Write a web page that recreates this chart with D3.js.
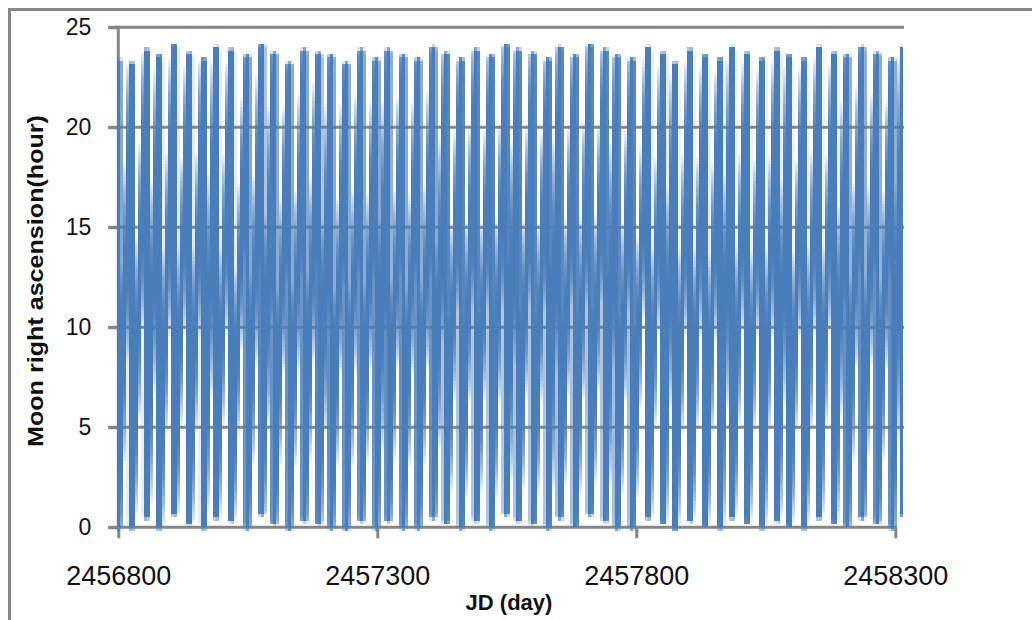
<!DOCTYPE html>
<html>
<head>
<meta charset="utf-8">
<script src="https://cdn.jsdelivr.net/npm/d3@7"></script>
<style>
  body { margin: 0; background: #fff; }
  #wrap { position: relative; width: 1032px; height: 620px; overflow: hidden; }
  #chart { position: absolute; left: 0; top: 0; }
  text { font-family: "Liberation Sans", Arial, sans-serif; fill: #111; }
</style>
</head>
<body>
<div id="wrap"><svg id="chart"></svg></div>
<script>
// Tick values
const jdTicks = [2456800, 2457300, 2457800, 2458300];
const raTicks = [0, 5, 10, 15, 20, 25];

// JD where the right ascension wraps from ~24h back to ~0h
const wrapJD = [
  2456800, 2456826, 2456855, 2456879, 2456908, 2456937, 2456965, 2456989, 2457018, 2457049,
  2457077, 2457101, 2457130, 2457159, 2457187, 2457211, 2457240, 2457269, 2457298, 2457321,
  2457350, 2457379, 2457408, 2457433, 2457462, 2457491, 2457520, 2457549, 2457572, 2457601,
  2457630, 2457653, 2457682, 2457711, 2457740, 2457763, 2457792, 2457823, 2457852, 2457875,
  2457904, 2457933, 2457962, 2457985, 2458014, 2458043, 2458072, 2458095, 2458124, 2458153,
  2458182, 2458207, 2458236, 2458265, 2458294, 2458315
];
// last value before the wrap (hour)
const peakRA = [
  23.38, 23.09, 23.74, 23.44, 23.98, 23.59, 23.29, 23.89, 23.74, 23.44,
  23.98, 23.59, 23.09, 23.74, 23.59, 23.44, 23.09, 23.74, 23.29, 23.74,
  23.44, 23.29, 23.89, 23.59, 23.29, 23.74, 23.44, 23.98, 23.74, 23.59,
  23.29, 23.89, 23.44, 23.98, 23.74, 23.44, 23.29, 23.89, 23.59, 23.09,
  23.74, 23.44, 23.29, 23.89, 23.59, 23.29, 23.74, 23.44, 23.29, 23.89,
  23.59, 23.44, 23.89, 23.59, 23.29, 23.89
];
// first value after the wrap (hour)
const troughRA = [
  0.10, 0.10, 0.59, 0.10, 0.74, 0.29, 0.10, 0.59, 0.44, 0.10,
  0.74, 0.29, 0.05, 0.44, 0.29, 0.10, 0.05, 0.44, 0.10, 0.44,
  0.10, 0.10, 0.59, 0.35, 0.10, 0.44, 0.10, 0.74, 0.44, 0.29,
  0.10, 0.59, 0.15, 0.74, 0.44, 0.10, 0.10, 0.59, 0.35, 0.05,
  0.44, 0.15, 0.10, 0.59, 0.35, 0.10, 0.44, 0.15, 0.10, 0.59,
  0.35, 0.15, 0.59, 0.35, 0.10, 0.59
];

const width = 1032;
const height = 620;
const plotLeft = 118.3, plotRight = 904, plotTop = 27.3, plotBottom = 527.3;
const grey = "#868686";
const blue = "#4a7ebb";

const points = [];
wrapJD.forEach((jd, i) => {
  points.push({ jd: jd, ra: peakRA[i] });
  points.push({ jd: jd, ra: troughRA[i] });
});

const x = d3.scaleLinear().domain([2456800, 2458316.8]).range([plotLeft, plotRight]);
const y = d3.scaleLinear().domain([0, 25]).range([plotBottom, plotTop]);

const svg = d3.select("#chart")
  .attr("width", width)
  .attr("height", height);

// chart frame
svg.append("rect")
  .attr("x", 9.5).attr("y", 9.5)
  .attr("width", 1100).attr("height", 700)
  .attr("fill", "none")
  .attr("stroke", grey)
  .attr("stroke-width", 3);

// horizontal gridlines (0 is the x axis itself)
svg.append("g")
  .selectAll("line")
  .data(raTicks.filter(d => d > 0))
  .enter()
  .append("line")
  .attr("x1", plotLeft - 10)
  .attr("x2", plotRight)
  .attr("y1", d => y(d))
  .attr("y2", d => y(d))
  .attr("stroke", grey)
  .attr("stroke-width", 3);

// y axis
const yAxis = d3.axisLeft(y)
  .tickValues(raTicks)
  .tickSizeInner(10)
  .tickSizeOuter(0)
  .tickPadding(17);

const gy = svg.append("g")
  .attr("transform", "translate(" + plotLeft + ",0)")
  .call(yAxis);
gy.select(".domain").remove();
gy.selectAll(".tick line").attr("stroke", grey).attr("stroke-width", 3);
gy.selectAll(".tick text")
  .attr("font-size", 23)
  .style("font-family", "Liberation Sans, Arial, sans-serif");
gy.append("line")
  .attr("x1", 0).attr("x2", 0)
  .attr("y1", plotTop - 1.5).attr("y2", plotBottom)
  .attr("stroke", grey).attr("stroke-width", 3);

// x axis
const xAxis = d3.axisBottom(x)
  .tickValues(jdTicks)
  .tickFormat(d3.format("d"))
  .tickSizeInner(11)
  .tickSizeOuter(0)
  .tickPadding(28);

const gx = svg.append("g")
  .attr("transform", "translate(0," + plotBottom + ")")
  .call(xAxis);
gx.select(".domain").remove();
gx.selectAll(".tick line").attr("stroke", grey).attr("stroke-width", 3);
gx.selectAll(".tick text")
  .attr("font-size", 27)
  .style("font-family", "Liberation Sans, Arial, sans-serif");
gx.append("line")
  .attr("x1", plotLeft - 10).attr("x2", x(2458300) + 1.5)
  .attr("y1", 0).attr("y2", 0)
  .attr("stroke", grey).attr("stroke-width", 3);

// axis titles
svg.append("text")
  .attr("x", 509)
  .attr("y", 610)
  .attr("text-anchor", "middle")
  .attr("font-size", 22)
  .attr("font-weight", "bold")
  .text("JD (day)");

svg.append("text")
  .attr("transform", "translate(43,281) rotate(-90)")
  .attr("text-anchor", "middle")
  .attr("font-size", 22)
  .attr("font-weight", "bold")
  .attr("textLength", 332)
  .attr("lengthAdjust", "spacingAndGlyphs")
  .text("Moon right ascension(hour)");

// series: drawn on a small canvas and enlarged, like the original low-res chart
const fx = 3, fy = 10 / 3;
const canvasLeft = 117, canvasTop = 14;
const srcW = 262, srcH = 156;

const canvas = d3.select("#wrap").append("canvas")
  .attr("width", srcW)
  .attr("height", srcH)
  .style("position", "absolute")
  .style("left", canvasLeft + "px")
  .style("top", canvasTop + "px")
  .style("width", srcW * fx + "px")
  .style("height", srcH * fy + "px")
  .style("image-rendering", "pixelated");

const ctx = canvas.node().getContext("2d");
const xs = x.copy().range(x.range().map(v => (v - canvasLeft) / fx));
const ys = y.copy().range(y.range().map(v => (v - canvasTop) / fy));

const line = d3.line()
  .x(d => xs(d.jd))
  .y(d => ys(d.ra))
  .context(ctx);

ctx.lineWidth = 2;
ctx.lineJoin = "round";
ctx.strokeStyle = blue;
// stroke twice so that partly covered pixels come out nearly solid
for (let k = 0; k < 2; k++) {
  ctx.beginPath();
  line(points);
  ctx.stroke();
}
</script>
</body>
</html>
